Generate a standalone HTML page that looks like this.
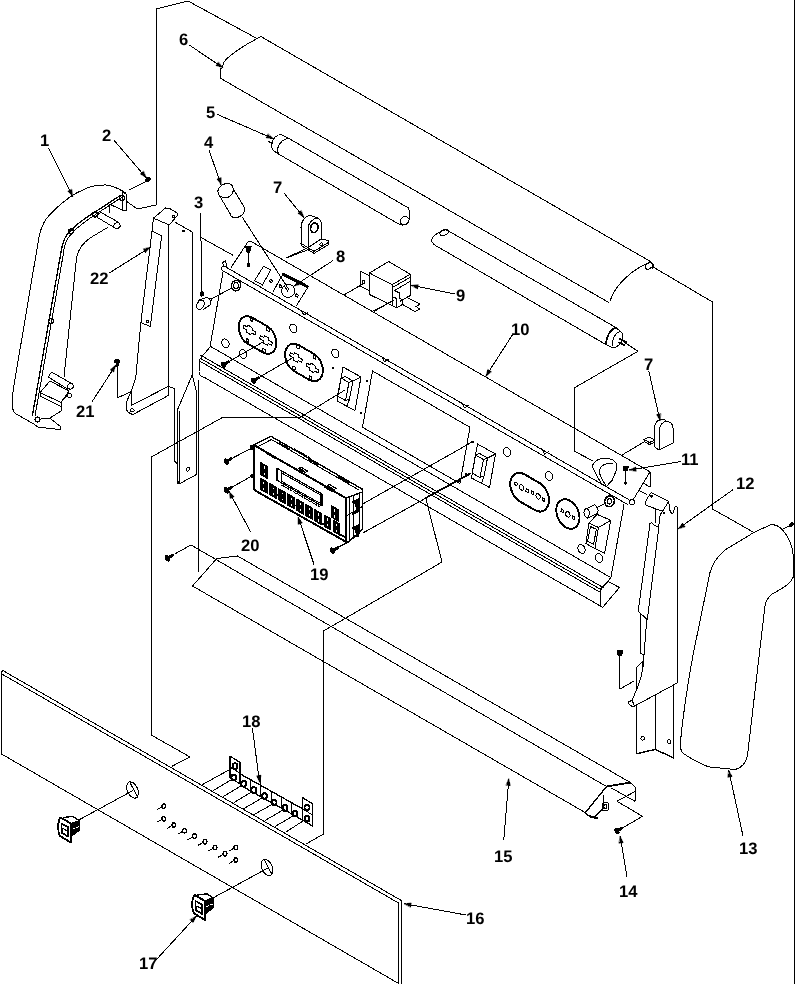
<!DOCTYPE html>
<html lang="en">
<head>
<meta charset="utf-8">
<title>Control panel exploded parts diagram</title>
<style>
html,body{margin:0;padding:0;background:#fff;}
body{width:800px;height:984px;overflow:hidden;position:relative;font-family:"Liberation Sans",sans-serif;}
svg{position:absolute;left:0;top:0;display:block;}
svg path,svg ellipse{fill:none;stroke:#000;stroke-width:1;shape-rendering:crispEdges;stroke-linecap:round;stroke-linejoin:round;}
svg text{font-family:"Liberation Sans",sans-serif;font-weight:bold;font-size:16.6px;fill:#000;text-rendering:geometricPrecision;}
svg{will-change:transform;}
</style>
</head>
<body>
<svg width="800" height="984" viewBox="0 0 800 984">
<!-- frame line at right edge -->
<g>
<path d="M794.5 0 L794.5 984" style="stroke-width:1.3"/>
</g>
<!-- callout numbers -->
<g>
<text x="40" y="146">1</text>
<text x="102" y="141">2</text>
<text x="194" y="208">3</text>
<text x="204" y="148">4</text>
<text x="206" y="118">5</text>
<text x="179" y="45">6</text>
<text x="273" y="193">7</text>
<text x="336" y="262">8</text>
<text x="456" y="301.3">9</text>
<text x="511" y="335.3">10</text>
<text x="644" y="370">7</text>
<text x="681" y="465">11</text>
<text x="736" y="489">12</text>
<text x="739" y="854">13</text>
<text x="619" y="896.5">14</text>
<text x="494" y="862">15</text>
<text x="466" y="924">16</text>
<text x="139" y="969">17</text>
<text x="242" y="727">18</text>
<text x="310" y="580">19</text>
<text x="241" y="551">20</text>
<text x="76" y="417">21</text>
<text x="90" y="284">22</text>
</g>
<!-- exploded-view guide lines -->
<g>
<path d="M126 201 L137.5 209 L156 205 L156 9 L188 1 L256 38"/>
<path d="M654 267.5 L712.5 302 L712.5 509 L754 532.5"/>
<path d="M624 342 L638 351.3 L574 388 L574 451 L593 461"/>
<path d="M201 237.5 L232.5 255"/>
<path d="M287.5 257.5 L310 249"/>
<path d="M344 295 L362.5 284"/>
<path d="M374 311.5 L394 300"/>
<path d="M345 390 L300 417.5 L222.5 417.5 L151.3 457 L151.3 735 L190 757 L172.5 766"/>
</g>
<!-- 6 lamp cover -->
<g>
<path d="M261 36.6 L651 261.8"/>
<path d="M220 78 L609 302.6"/>
<path d="M261 36.6 C246 44 229 55 224 62 L222 68 L220 69 L220 78"/>
<path d="M649 262.5 C636 268 616 282 610 301"/>
<ellipse cx="649" cy="266" rx="4" ry="2.6" transform="rotate(-35 649 266)"/>
<path d="M651 262.2 L654 265.5 L652 269"/>
</g>
<!-- 5 fluorescent tube -->
<g>
<path d="M289 138.5 L408.5 208"/>
<path d="M278.5 154 L399.5 224.5"/>
<path d="M408.5 208 C410 212 410 218 408.5 221.5 C407 224.5 403 226 399.5 224.5"/>
<ellipse cx="404.6" cy="220.8" rx="4.6" ry="4" transform="rotate(-40 404.6 220.8)"/>
<path d="M289 138.5 L281 134.5"/>
<path d="M281 134.5 C277 134.5 273 138 272 143 C271.3 146.5 272 149.5 273.5 150.8 L278.5 154"/>
<path d="M289 138.5 C284 138.5 279.5 142.5 278 147.5 C277.3 150 277.5 152.5 278.5 154"/>
<path d="M268 136.5 L273.5 139" style="stroke-width:1.6"/>
<path d="M268.5 141.5 L272.5 143.5" style="stroke-width:1.6"/>
<path d="M449.5 231.5 L616 327.6"/>
<path d="M436 245.8 L606 344.6"/>
<path d="M449.5 231.5 L446 229.8 C441 231 435 234.5 432.5 237.5 C431 240 431.5 243.5 436 245.8"/>
<ellipse cx="444.3" cy="232.4" rx="4.6" ry="2.8" transform="rotate(-25 444.3 232.4)"/>
<path d="M616 327.7 C610 329.5 606 337 606 344.6" style="stroke-width:1.8"/>
<path d="M620 331.5 C615 333 611 341 612 348"/>
<path d="M606 344.6 L612 347.5 C618 348 622 343 623 338 C623 334 622 332 620 331 L616 327.7"/>
<path d="M620 339 L626 342" style="stroke-width:1.6"/>
<path d="M619 342.5 L624 345" style="stroke-width:1.6"/>
</g>
<!-- 1 left end cap -->
<g>
<path d="M125 192.5 C120 189.5 114 185.5 106 185 C99 184.8 92 186 86 188.5 C80 191 75 193.5 70 197 C60 204 48 215 44 222.5 C41 228 40 232 39 237 L13.5 388 C12.5 396 12 404 12.5 408 C13 411 14 412.5 16 413.8 L34.4 424.3"/>
<path d="M34.4 424.3 L37.5 427 L60.5 429.6 L61 427 L51 419 L41 418"/>
<path d="M121 195 L95 212 C82 220 70 229 65 238 C63 242 62 246 61 252 L32.5 415" style="stroke-width:1.3"/>
<path d="M123 196.5 L97 213.5 C84 222 72 231 67.5 239 C65 243 64 248 63.5 253 L35 416"/>
<path d="M107.5 227.5 L90 238 C83 243 78 250 76.5 258 L64 377"/>
<path d="M122.5 192.5 L126 194 L126 211 L122.5 210 L122.5 192.5"/>
<path d="M109 204 L109 213"/>
<path d="M109 204 L122.5 210"/>
<path d="M101 212.5 L119 222.5"/>
<path d="M97.5 217.5 L115 228"/>
<ellipse cx="117" cy="225.6" rx="3.2" ry="2.8" transform="rotate(-30 117 225.6)"/>
<path d="M101 212.5 C98 213 97 216 97.5 217.5"/>
<ellipse cx="122" cy="198" rx="2.4" ry="2.4" style="stroke-width:1.4"/>
<ellipse cx="95" cy="214.5" rx="2.4" ry="2.4" style="stroke-width:1.4"/>
<ellipse cx="71" cy="231.5" rx="2.4" ry="2.4" style="stroke-width:1.4"/>
<ellipse cx="51" cy="321" rx="2.4" ry="2.4" style="stroke-width:1.4"/>
<ellipse cx="37.5" cy="419.5" rx="2.4" ry="2.4" style="stroke-width:1.4"/>
<path d="M52.5 372.5 L72.5 384"/>
<path d="M49 377.5 L67.5 389"/>
<ellipse cx="70.5" cy="386.3" rx="3" ry="2.6" transform="rotate(-30 70.5 386.3)"/>
<path d="M52.5 372.5 C49.5 373 48.5 376 49 377.5"/>
<path d="M40 392.5 L50 381 L69 391 L61 402.5 L40 392.5"/>
<path d="M40 392.5 L40 396 L61 406.5 L61 402.5"/>
<path d="M61 406.5 L61 411 L50 418"/>
<path d="M61 402.5 L68 394"/>
<ellipse cx="69.5" cy="395.5" rx="2.2" ry="2" transform="rotate(-30 69.5 395.5)"/>
<path d="M48.8 148.8 L72.5 196"/>
<path d="M72.5 196 L67.8 191.1 L71.4 189.3 Z" style="fill:#000;stroke-width:0.6"/>
<path d="M113.8 140 L146 177.5"/>
<path d="M146 177.5 L140.2 173.9 L143.3 171.3 Z" style="fill:#000;stroke-width:0.6"/>
<path d="M129 190 L148 180.5"/>
<ellipse cx="148.2" cy="179.3" rx="2.3" ry="1.9" transform="rotate(-30 148.2 179.3)" style="fill:#000"/>
<path d="M146 180.6 L148 179.5" style="stroke-width:2.2"/>
</g>
<!-- 22 left mounting bracket -->
<g>
<path d="M153.4 218.2 L165.5 208 L169.4 208.3 L177 212.9 L177.7 215 L169.4 225 L153.4 218.2"/>
<ellipse cx="173.6" cy="216.4" rx="1.3" ry="1.3"/>
<path d="M153.4 218.2 L152 231 L140.9 322.6 L137.3 360.5 L135.8 377.3 L131.3 391 L126.7 401.6 L126.2 409.3 L128.2 412.3 L132.8 414.6 L168.3 395.5 L168.3 386.4 L131.3 405.5 L131.3 391"/>
<path d="M152 231 L161.7 235.7 L150.3 326.4 L140.9 322.6"/>
<ellipse cx="147.7" cy="321.4" rx="1.2" ry="1.2"/>
<ellipse cx="132.2" cy="410.3" rx="2" ry="1.5"/>
<path d="M168.8 224.5 L168.8 386.4"/>
<path d="M174.7 222 L192.2 232 L192.2 375"/>
<ellipse cx="183.5" cy="231" rx="0.9" ry="0.9" style="fill:#000"/>
<path d="M168.3 386.4 L174.7 388.7 L174.7 461 L177 463.4"/>
<path d="M192.2 375 L177.7 409.3 L177.7 484"/>
<path d="M179.3 411 L179.3 484"/>
<path d="M192.2 375 L196 389.5 L196 474.8 L179 484 L177.7 480"/>
<ellipse cx="188" cy="469.2" rx="1.5" ry="2" transform="rotate(20 188 469.2)"/>
<path d="M198.3 380.3 L198.3 572"/>
<path d="M110 272.5 L150 247.5"/>
<path d="M150 247.5 L145.5 252.6 L143.4 249.2 Z" style="fill:#000;stroke-width:0.6"/>
<path d="M92.5 401 L115.6 365.5"/>
<path d="M115.6 365.5 L113.7 372 L110.4 369.9 Z" style="fill:#000;stroke-width:0.6"/>
<path d="M117.5 366 L117.5 397.8 L131.3 391.7"/>
<ellipse cx="117.2" cy="361.3" rx="2.6" ry="1.7" style="fill:#000"/>
<path d="M117.4 362 L117.4 366" style="stroke-width:2.4"/>
</g>
<!-- 3 indicator lamp -->
<g>
<path d="M200.6 213 L201.8 293"/>
<ellipse cx="202" cy="294" rx="1.6" ry="2.2" style="fill:#000"/>
<ellipse cx="200.4" cy="304.8" rx="3.4" ry="5" transform="rotate(30 200.4 304.8)"/>
<path d="M198.8 300.2 L206.5 297.6 C209 297.6 211 300.5 210.8 304.5 L203.3 309.6"/>
<path d="M209.5 298.8 L211.5 298.3 L212 300.5"/>
<path d="M211.5 298.8 L232 288"/>
<ellipse cx="236" cy="285.6" rx="4.6" ry="5.4" transform="rotate(20 236 285.6)" style="stroke-width:1.4"/>
<ellipse cx="236" cy="285.6" rx="2.4" ry="3"/>
<path d="M200.6 237.3 L232.5 255"/>
</g>
<!-- 10 control panel backing plate -->
<g>
<path d="M230.8 268 L246.5 244 C247.5 241.5 249.5 240.5 252 242 L650 471.9 L633 500"/>
<path d="M650 471.9 L650 487 L644 483.5"/>
<path d="M224 266 L629 499.8"/>
<path d="M222 270.3 L628 504.7"/>
<path d="M224 266 L222.5 262.5 L225.5 261 L227 267.7"/>
<path d="M224 266 C221 266 220.5 269 222 270.3"/>
<ellipse cx="632" cy="502.3" rx="2.6" ry="2.6"/>
<path d="M223 272 L210 347"/>
<path d="M624 504.5 L611 577"/>
<path d="M210 346.1 L611 577.7"/>
<path d="M201 355.4 L603 587.5"/>
<path d="M200 358.1 L602 590.2"/>
<path d="M200 361.3 L601 592.8"/>
<path d="M204 377.2 L600 605.8"/>
<path d="M210 347 L199.5 359.5 L199 372 C199 375 201 377 204 377.2"/>
<path d="M611 577 L608 581.5 L619.5 587.5 L602.5 607.5 L600 605.8 L600 589.5 L608 581.5"/>
<path d="M226.2 339.4 L226.2 339.4 C228.1 340.5 229.4 343.2 229 345.4 L229 345.4 C228.6 347.6 226.7 348.5 224.8 347.4 L224.8 347.4 C222.9 346.3 221.6 343.6 222 341.4 L222 341.4 C222.4 339.2 224.3 338.3 226.2 339.4 Z"/>
<path d="M243.7 350 L243.7 350 C245.6 351.1 246.9 353.8 246.5 356 L246.5 356 C246.1 358.2 244.2 359.1 242.3 358 L242.3 358 C240.4 356.9 239.1 354.2 239.5 352 L239.5 352 C239.9 349.8 241.8 348.9 243.7 350 Z"/>
<path d="M294.1 324.5 L294.1 324.5 C296 325.6 297.3 328.3 296.9 330.5 L296.9 330.5 C296.5 332.7 294.6 333.6 292.7 332.5 L292.7 332.5 C290.8 331.4 289.5 328.7 289.9 326.5 L289.9 326.5 C290.3 324.3 292.2 323.4 294.1 324.5 Z"/>
<path d="M336.1 349.5 L336.1 349.5 C338 350.6 339.3 353.3 338.9 355.5 L338.9 355.5 C338.5 357.7 336.6 358.6 334.7 357.5 L334.7 357.5 C332.8 356.4 331.5 353.7 331.9 351.5 L331.9 351.5 C332.3 349.3 334.2 348.4 336.1 349.5 Z"/>
<path d="M507.7 448 L507.7 448 C509.6 449.1 510.9 451.8 510.5 454 L510.5 454 C510.1 456.2 508.2 457.1 506.3 456 L506.3 456 C504.4 454.9 503.1 452.2 503.5 450 L503.5 450 C503.9 447.8 505.8 446.9 507.7 448 Z"/>
<path d="M549.7 472 L549.7 472 C551.6 473.1 552.9 475.8 552.5 478 L552.5 478 C552.1 480.2 550.2 481.1 548.3 480 L548.3 480 C546.4 478.9 545.1 476.2 545.5 474 L545.5 474 C545.9 471.8 547.8 470.9 549.7 472 Z"/>
<path d="M582.2 545 L582.2 545 C584.1 546.1 585.4 548.8 585 551 L585 551 C584.6 553.2 582.7 554.1 580.8 553 L580.8 553 C578.9 551.9 577.6 549.2 578 547 L578 547 C578.4 544.8 580.3 543.9 582.2 545 Z"/>
<path d="M599.7 554 L599.7 554 C601.6 555.1 602.9 557.8 602.5 560 L602.5 560 C602.1 562.2 600.2 563.1 598.3 562 L598.3 562 C596.4 560.9 595.1 558.2 595.5 556 L595.5 556 C595.9 553.8 597.8 552.9 599.7 554 Z"/>
<path d="M252.4 317.8 L267.2 326.2 C273.4 329.8 277.4 338.6 276.1 345.8 L276.1 345.8 C274.8 352.9 268.8 355.8 262.6 352.2 L247.8 343.8 C241.6 340.2 237.6 331.4 238.9 324.2 L238.9 324.2 C240.2 317.1 246.2 314.2 252.4 317.8 Z" style="stroke-width:1.9"/>
<path d="M298.9 345.2 L313.7 353.8 C319.9 357.3 323.9 366.1 322.6 373.2 L322.6 373.2 C321.3 380.4 315.3 383.3 309.1 379.8 L294.3 371.2 C288.1 367.7 284.1 358.9 285.4 351.8 L285.4 351.8 C286.7 344.6 292.7 341.7 298.9 345.2 Z" style="stroke-width:1.9"/>
<path d="M243.7 325 L247.2 327 L248.2 325.3 L252 327.5 L252.4 330 L255.8 332 L255.3 335 L251.8 333 L250.8 334.7 L247 332.5 L246.6 330 L243.2 328 Z" style="stroke-width:1"/>
<path d="M260.2 335.5 L263.7 337.5 L264.7 335.8 L268.5 338 L268.9 340.5 L272.3 342.5 L271.8 345.5 L268.3 343.5 L267.3 345.2 L263.5 343 L263.1 340.5 L259.7 338.5 Z" style="stroke-width:1"/>
<path d="M250.5 317.4 L253 318.8 L252.5 321.6 L250 320.2 Z" style="stroke-width:1"/>
<path d="M267 327.4 L269.5 328.8 L269 331.6 L266.5 330.2 Z" style="stroke-width:1"/>
<path d="M246.5 338.4 L249 339.8 L248.5 342.6 L246 341.2 Z" style="stroke-width:1"/>
<path d="M263 348.4 L265.5 349.8 L265 352.6 L262.5 351.2 Z" style="stroke-width:1"/>
<path d="M290.2 352.5 L293.7 354.5 L294.7 352.8 L298.5 355 L298.9 357.5 L302.3 359.5 L301.8 362.5 L298.3 360.5 L297.3 362.2 L293.5 360 L293.1 357.5 L289.7 355.5 Z" style="stroke-width:1"/>
<path d="M306.7 363 L310.2 365 L311.2 363.3 L315 365.5 L315.4 368 L318.8 370 L318.3 373 L314.8 371 L313.8 372.7 L310 370.5 L309.6 368 L306.2 366 Z" style="stroke-width:1"/>
<path d="M297 344.9 L299.5 346.3 L299 349.1 L296.5 347.7 Z" style="stroke-width:1"/>
<path d="M313.5 354.9 L316 356.3 L315.5 359.1 L313 357.7 Z" style="stroke-width:1"/>
<path d="M293 365.9 L295.5 367.3 L295 370.1 L292.5 368.7 Z" style="stroke-width:1"/>
<path d="M309.5 375.9 L312 377.3 L311.5 380.1 L309 378.7 Z" style="stroke-width:1"/>
<path d="M372.5 371 L470 427.3 L460 483.5 L362.5 427.2 Z"/>
<path d="M343 367 L361 377 L355 410.5 L337 401 Z"/>
<path d="M341 378 L349 382.5 L345.5 400.5 L337.5 396 Z"/>
<path d="M341 378 L345 376.5 L353 381 L349 382.5"/>
<path d="M353 381 L349.5 399 L345.5 400.5"/>
<path d="M353 381 L361 377"/>
<path d="M347 406.3 L349.5 399"/>
<path d="M477.5 444 L495.5 454 L489.5 487.5 L471.5 478 Z"/>
<path d="M475.5 455 L483.5 459.5 L480 477.5 L472 473 Z"/>
<path d="M475.5 455 L479.5 453.5 L487.5 458 L483.5 459.5"/>
<path d="M487.5 458 L484 476 L480 477.5"/>
<path d="M487.5 458 L495.5 454"/>
<path d="M481.5 483.3 L484 476"/>
<ellipse cx="333" cy="368" rx="0.9" ry="0.9" style="fill:#000"/>
<ellipse cx="367" cy="381" rx="0.9" ry="0.9" style="fill:#000"/>
<ellipse cx="361" cy="413" rx="0.9" ry="0.9" style="fill:#000"/>
<ellipse cx="472.5" cy="442" rx="0.9" ry="0.9" style="fill:#000"/>
<ellipse cx="466" cy="474.5" rx="0.9" ry="0.9" style="fill:#000"/>
<ellipse cx="459" cy="481" rx="0.9" ry="0.9" style="fill:#000"/>
<path d="M301 309.7 L304 315.2 L308 312.7" style="stroke-width:1"/>
<path d="M381.5 356.1 L384.5 361.6 L388.5 359.1" style="stroke-width:1"/>
<path d="M461.5 402.3 L464.5 407.8 L468.5 405.3" style="stroke-width:1"/>
<path d="M541.5 448.5 L544.5 454 L548.5 451.5" style="stroke-width:1"/>
<path d="M248.4 247 L248.4 264" style="stroke-width:1.3"/>
<path d="M245.6 246 L251.2 246 L250.6 249 L249.6 252 L247.2 252 L246.2 249 Z" style="fill:#000"/>
<ellipse cx="248.4" cy="265" rx="1.3" ry="1.5" style="fill:#000"/>
<path d="M263.6 266.2 L270.6 270 L262.5 285 L254.6 280.6 Z"/>
<path d="M270.2 279.2 L272.3 280.4 L271.8 282.8 L269.7 281.6 Z" style="stroke-width:1"/>
<path d="M228 362 L262.2 342.5"/>
<path d="M258 378 L292 358.2"/>
<path d="M223.6 364.6 L228.4 361.8" style="stroke-width:3"/>
<ellipse cx="223.2" cy="364.8" rx="1.6" ry="3" transform="rotate(-30 223.2 364.8)" style="fill:#000"/>
<path d="M253.6 380.6 L258.4 377.8" style="stroke-width:3"/>
<ellipse cx="253.2" cy="380.8" rx="1.6" ry="3" transform="rotate(-30 253.2 380.8)" style="fill:#000"/>
</g>
<!-- 8 starter socket and plate -->
<g>
<path d="M283.5 274.5 L307.3 286.6" style="stroke-width:3"/>
<path d="M283.3 273.4 L272.8 292.1"/>
<path d="M307.8 287.4 L296.4 305.8"/>
<ellipse cx="288.2" cy="290.8" rx="6.6" ry="6.6"/>
<path d="M279.5 284.4 L281.6 285.6 L281.1 288 L279 286.8 Z" style="stroke-width:1"/>
<path d="M296.1 293.8 L298.2 295 L297.7 297.4 L295.6 296.2 Z" style="stroke-width:1"/>
<path d="M284.5 286.5 L288 291.5"/>
<path d="M332.5 260.9 L294.5 285.7"/>
<path d="M294.5 285.7 L298.9 280.5 L301 283.8 Z" style="fill:#000;stroke-width:0.6"/>
</g>
<!-- 4 starter -->
<g>
<path d="M218.5 194 C216.5 190 219.5 185.5 224.5 184 C229.5 182.5 233.5 184.5 233 188.5 L244.5 207.5 C246 211 243 215.5 238.5 217 C234 218.5 230.5 217 230 213.5 Z"/>
<path d="M218.5 194 C220 197.5 224.5 198.5 228.5 197 C232 195.5 234 191.5 233 188.5"/>
<path d="M242.5 217.5 L288.5 289"/>
<path d="M209 150 L221 184.5"/>
<path d="M221 184.5 L217 179 L220.8 177.7 Z" style="fill:#000;stroke-width:0.6"/>
</g>
<!-- 7 lamp holder (left) -->
<g>
<path d="M301 243.4 L301 227.6 C301.5 220 306 215.5 310.6 215.4 L317.6 218 C320 219 321.1 221 321.1 223 L321.1 239"/>
<path d="M308 247.6 L308 229 C308.5 222 313 218.5 317.6 218"/>
<ellipse cx="314.3" cy="227.8" rx="3.6" ry="4.8" transform="rotate(15 314.3 227.8)" style="stroke-width:1.7"/>
<path d="M301 243.4 L314.1 251.3 L328.3 242.5 L328.3 240.5 L321.1 239 L308 247.6"/>
<path d="M301 243.4 L301 245.5 L314.1 253.4 L328.3 244.6 L328.3 242.5"/>
<ellipse cx="321.3" cy="244.3" rx="1.6" ry="1.2" transform="rotate(-30 321.3 244.3)"/>
<path d="M287 257.4 L304.5 249.5"/>
<path d="M284.4 193.5 L303.6 217.1"/>
<path d="M303.6 217.1 L297.9 213.3 L301 210.8 Z" style="fill:#000;stroke-width:0.6"/>
</g>
<!-- 5 and 6 callout arrows -->
<g>
<path d="M217.5 114.5 L273 138.5"/>
<path d="M273 138.5 L266.2 137.8 L267.8 134.1 Z" style="fill:#000;stroke-width:0.6"/>
<path d="M190 45.5 L222.5 67.5"/>
<path d="M222.5 67.5 L216 65.5 L218.2 62.2 Z" style="fill:#000;stroke-width:0.6"/>
</g>
<!-- 9 relay -->
<g>
<path d="M369.4 273 L388.7 261.5 L410.3 274.3 L392.3 284.6 Z"/>
<path d="M369.4 273 L369.4 294.5 L392.3 305.5 L392.3 284.6"/>
<path d="M410.3 274.3 L410.3 295.5 L400 301.3"/>
<path d="M360.5 271.4 L369.4 275.8"/>
<path d="M360.5 271.4 L360.5 286.3 L369.4 290.6"/>
<ellipse cx="363.7" cy="282" rx="1.3" ry="1.6"/>
<path d="M392.3 287.5 L410.3 277.3"/>
<path d="M394.5 290.5 L410.3 281.3"/>
<path d="M394.5 290.5 L399.5 293 L399.5 297.5"/>
<path d="M392.3 296.5 L396.5 298.5 L396.5 308"/>
<path d="M392.3 305.5 L396.5 308 L402.5 304.5 L415 311.5 L419.5 309 L416 306.5 L420 304 L408 298"/>
<path d="M402.5 304.5 L402.5 300 L400 298.5"/>
<path d="M343.9 295 L360.5 285.4"/>
<path d="M373.6 310.8 L392.3 301"/>
<path d="M455 294 L411.5 285.4"/>
<path d="M411.5 285.4 L418.3 284.7 L417.5 288.6 Z" style="fill:#000;stroke-width:0.6"/>
</g>
<!-- 10 callout arrow -->
<g>
<path d="M512 335.5 L486 376"/>
<path d="M486 376 L487.8 369.4 L491.2 371.6 Z" style="fill:#000;stroke-width:0.6"/>
</g>
<!-- 10 right-hand cut-outs, toggle switch and lamp holder -->
<g>
<path d="M524.6 474.4 L539.4 482.9 C545.8 486.7 550 495.7 548.7 503.2 L548.7 503.2 C547.3 510.7 541 513.7 534.6 509.9 L519.8 501.4 C513.4 497.7 509.2 488.7 510.5 481.2 L510.5 481.2 C511.9 473.7 518.2 470.7 524.6 474.4 Z" style="stroke-width:2"/>
<path d="M521.9 484.8 L521.9 484.8 C523.1 485.5 523.9 487.2 523.7 488.6 L523.7 488.6 C523.4 489.9 522.3 490.5 521.1 489.8 L521.1 489.8 C519.9 489.1 519.1 487.4 519.3 486.1 L519.3 486.1 C519.6 484.7 520.7 484.1 521.9 484.8 Z" style="stroke-width:1"/>
<path d="M515 481.9 L517.3 483.1 L516.8 485.8 L514.5 484.5 Z" style="stroke-width:1"/>
<path d="M526.2 488.7 L528.5 489.9 L528 492.6 L525.7 491.3 Z" style="stroke-width:1"/>
<path d="M538.5 493.9 L538.5 493.9 C539.7 494.6 540.5 496.3 540.3 497.6 L540.3 497.6 C540 499 538.9 499.6 537.7 498.9 L537.7 498.9 C536.5 498.2 535.7 496.5 535.9 495.1 L535.9 495.1 C536.2 493.8 537.3 493.2 538.5 493.9 Z" style="stroke-width:1"/>
<path d="M531.6 490.9 L533.9 492.2 L533.4 494.8 L531.1 493.6 Z" style="stroke-width:1"/>
<path d="M542.8 497.8 L545.1 499 L544.6 501.6 L542.3 500.4 Z" style="stroke-width:1"/>
<path d="M570.2 500.8 L570.2 500.8 C576.5 504.4 580.6 513.3 579.3 520.6 L579.3 520.6 C578 527.9 571.9 530.8 565.6 527.2 L565.6 527.2 C559.3 523.6 555.2 514.7 556.5 507.4 L556.5 507.4 C557.8 500.1 563.9 497.2 570.2 500.8 Z" style="stroke-width:1.9"/>
<path d="M568.3 511.9 L568.3 511.9 C569.5 512.6 570.3 514.3 570.1 515.6 L570.1 515.6 C569.8 517 568.7 517.6 567.5 516.9 L567.5 516.9 C566.3 516.2 565.5 514.5 565.7 513.1 L565.7 513.1 C566 511.8 567.1 511.2 568.3 511.9 Z" style="stroke-width:1"/>
<path d="M561.4 508.9 L563.7 510.2 L563.2 512.8 L560.9 511.6 Z" style="stroke-width:1"/>
<path d="M572.6 515.8 L574.9 517 L574.4 519.6 L572.1 518.3 Z" style="stroke-width:1"/>
<ellipse cx="609.5" cy="501.3" rx="4.8" ry="5.4" transform="rotate(20 609.5 501.3)" style="stroke-width:1.6"/>
<ellipse cx="609.5" cy="501.3" rx="2.2" ry="2.6" transform="rotate(20 609.5 501.3)" style="stroke-width:1.2"/>
<path d="M585.5 509 C583 510.5 583.5 516 587 518.3 L597 513.5 C599 511.5 598 507 594.5 504.8 Z"/>
<path d="M585.5 509 C588.5 508 591.5 513 587 518.3"/>
<path d="M597.6 507.4 L606.2 503"/>
<path d="M588.9 523.1 L598.5 527.5 L595 548.5 L585.9 543.6 Z"/>
<path d="M588.9 523.1 L597.1 514.4 L610.8 520.2 L598.5 527.5"/>
<path d="M610.8 520.2 L604.6 553.4 L595 548.5"/>
<path d="M590.5 526.5 L596.3 529.3 L593.6 544.5 L587.6 541.5 Z"/>
<path d="M592.4 466 C594 460 602 457 609 458.5 C615 460 618 464 616.5 470 L612.3 480 L606.5 486.5 L602 484.5 C597 476 593 470 592.4 466 Z"/>
<path d="M606.5 486.5 C602 480 599 475 599.5 471 C600.5 465 607 462 613 464"/>
<path d="M625.6 468 L625.6 482" style="stroke-width:1.3"/>
<path d="M623 466 L628.4 466 L627.4 470.5 L624 470.5 Z" style="fill:#000"/>
<ellipse cx="625.6" cy="483" rx="1.2" ry="1.2" style="fill:#000"/>
<path d="M681 461.5 L629.5 470"/>
<path d="M629.5 470 L635.6 467 L636.2 470.9 Z" style="fill:#000;stroke-width:0.6"/>
</g>
<!-- 7 lamp holder (right) -->
<g>
<path d="M659 450 L659 431 C659.5 425 663 421.5 666.5 421.5 C670 421.5 673 424 673 428 L673 443 Z"/>
<path d="M659 450 L654 446.5 L654 430 C654.5 423 658 419 662 419 C664 419 665.5 420 666.5 421.5"/>
<path d="M644 439.5 L649 437 L654 439.5"/>
<path d="M644 439.5 L644 441.5 L649.5 444.5 L654 442.5"/>
<path d="M644 439.5 L649.5 442.5 L654 440.5"/>
<path d="M622 455 L644 442"/>
<path d="M648.8 371 L660 420.5"/>
<path d="M660 420.5 L656.6 414.6 L660.5 413.7 Z" style="fill:#000;stroke-width:0.6"/>
</g>
<!-- 12 right mounting bracket -->
<g>
<path d="M638.2 490 L646.6 494.5"/>
<path d="M646.5 499.5 L650.3 493.8 C650.8 493 651.8 492.8 652.6 493.3 L668.7 501.3 L662.6 511.3 L647 505.6 C645.6 505 645.3 503.5 645.8 502.2 Z"/>
<ellipse cx="651.4" cy="496.3" rx="0.9" ry="0.9" style="fill:#000"/>
<path d="M668.7 501.3 L669.5 508.2 C670 512 671.5 513.8 672.8 513.5 C674 513 674 509.5 674.6 507.5 C675.2 505.5 677.2 505 677.4 508 L677.4 682.9"/>
<path d="M655.7 509.7 L655.4 522.7"/>
<path d="M662.6 511.3 L660.3 514.3 L658.8 525.7"/>
<ellipse cx="664.1" cy="512.8" rx="0.8" ry="0.8" style="fill:#000"/>
<path d="M650 523.4 L651.5 522.6 L655 525.8 L659 526.5 L647.3 619.5 L638.2 611.5 Z"/>
<path d="M640.6 614.7 L640.6 653.5 L643.2 654.4"/>
<path d="M646.8 619.2 L644 655"/>
<path d="M644 655 C644 668 640 684 632 700.2"/>
<path d="M636.3 689.8 L636.3 667.4 L642.3 661.8 L642.6 672"/>
<path d="M632 700.2 L628.5 702 L628.5 703.8 L632.8 707 L677.4 682.9"/>
<path d="M632 700.2 L634.5 706"/>
<path d="M636.6 706.2 L636.6 753.7 L655.3 749.4 L673.7 758 L673.7 684.9" style="stroke-width:1.4"/>
<path d="M655.3 695.9 L655.3 749.4"/>
<ellipse cx="642.7" cy="738.2" rx="1.8" ry="2"/>
<ellipse cx="669.1" cy="741.6" rx="1.6" ry="2"/>
<path d="M732.5 490 L678.4 528.6"/>
<path d="M678.4 528.6 L682.5 523.2 L684.9 526.5 Z" style="fill:#000;stroke-width:0.6"/>
<path d="M619.9 654 L619.9 689 L633.7 681.2"/>
<path d="M617 650.5 L622.8 650.5 L621.6 655.5 L618.2 655.5 Z" style="fill:#000"/>
</g>
<!-- 13 right end cap -->
<g>
<path d="M753.8 532.5 L770 525 C775 524 779 526 782.5 530 C788 536 792 545 793.3 555 L793.3 577 C791 583 786 586.5 772.5 593.8 C768 597 766 601 765 606 L747.5 755 C746.5 762 742 768 735 769.5 L710 767 C705 766.5 690 758 683.8 753.8 C680.5 751 680 748 680.3 743 C682 725 687 688 693 655 L710 572.5 C712 565 718 556 725 550 Z"/>
<path d="M782 529.5 L790.5 525.5"/>
<ellipse cx="791.5" cy="524.5" rx="2" ry="1.6" transform="rotate(-30 791.5 524.5)" style="fill:#000"/>
<path d="M743 836 L728.8 770.5"/>
<path d="M728.8 770.5 L732.1 776.4 L728.2 777.3 Z" style="fill:#000;stroke-width:0.6"/>
</g>
<!-- 15 lower trim -->
<g>
<path d="M237.5 556 L630.5 782.6"/>
<path d="M191 545 L606.5 786.5"/>
<path d="M192.5 586 L585.5 812.7"/>
<path d="M192.5 586 L216 559.4"/>
<path d="M216.5 558.6 L237.5 556"/>
<path d="M606.5 786.5 L630.5 782.6" style="stroke-width:1.8"/>
<path d="M606.5 786.5 L585.5 812.5 L587.8 815.5 L596 817.8" style="stroke-width:1.4"/>
<path d="M590 816.4 L597 818" style="stroke-width:2.4"/>
<path d="M630.5 782.6 L635 787 L635 801.3 L611 787.8"/>
<path d="M635 791.5 L617 801.3"/>
<path d="M603.5 795.3 L603.5 808 L596 815.5"/>
<path d="M602.8 803 L608 802.8 L608 810.3 L602.8 810.3 Z"/>
<ellipse cx="605.4" cy="806.5" rx="1.4" ry="2"/>
<path d="M503.8 840 L508.8 779"/>
<path d="M508.8 779 L510.3 785.6 L506.3 785.3 Z" style="fill:#000;stroke-width:0.6"/>
<path d="M617 801.3 L642.5 816.3 L621.5 828.5"/>
<path d="M617.3 830.8 L621.7 828.2" style="stroke-width:3"/>
<ellipse cx="616.9" cy="831" rx="1.6" ry="3" transform="rotate(-30 616.9 831)" style="fill:#000"/>
<path d="M627 877 L620.2 836.5"/>
<path d="M620.2 836.5 L623.2 842.6 L619.3 843.2 Z" style="fill:#000;stroke-width:0.6"/>
<path d="M175 553.8 L191 545"/>
<path d="M167.6 558.1 L172.4 555.3" style="stroke-width:3"/>
<ellipse cx="167.2" cy="558.3" rx="1.6" ry="3" transform="rotate(-30 167.2 558.3)" style="fill:#000"/>
</g>
<!-- guide lines for glass and module -->
<g>
<path d="M306.3 843.8 L323.5 834 L323.5 631 L442 562 L425.7 498"/>
<path d="M363.7 532.5 L470.4 473.5"/>
<path d="M425.7 498 L470.4 473.5" style="stroke-width:1.8"/>
<path d="M362.7 504 L471.4 442.4"/>
</g>
<!-- 16 glass panel -->
<g>
<path d="M1.5 754 L1.5 672 L2.8 670.5 L401.5 900.6 L401.5 984"/>
<path d="M1.5 673.8 L398.5 903 L398.5 983.4"/>
<path d="M1.5 754 L398.5 983.4"/>
<ellipse cx="132.5" cy="790" rx="5.2" ry="8.6" transform="rotate(-25 132.5 790)"/>
<ellipse cx="267" cy="867.5" rx="5.2" ry="8.6" transform="rotate(-25 267 867.5)"/>
<path d="M130 782.5 L137.5 797" style="stroke-width:1"/>
<path d="M264.5 860 L272 874.5" style="stroke-width:1"/>
<ellipse cx="163.8" cy="806.2" rx="1.9" ry="2.2" style="stroke-width:1.3"/>
<path d="M162.2 806.8 L157.2 809.6" style="stroke-width:1"/>
<ellipse cx="163.8" cy="818.8" rx="1.9" ry="2.2" style="stroke-width:1.3"/>
<path d="M162.2 819.2 L157.2 822.1" style="stroke-width:1"/>
<ellipse cx="173.8" cy="825" rx="1.9" ry="2.2" style="stroke-width:1.3"/>
<path d="M172.2 825.5 L167.2 828.4" style="stroke-width:1"/>
<ellipse cx="184.5" cy="830.8" rx="1.9" ry="2.2" style="stroke-width:1.3"/>
<path d="M183 831.2 L178 834.1" style="stroke-width:1"/>
<ellipse cx="194.5" cy="836.2" rx="1.9" ry="2.2" style="stroke-width:1.3"/>
<path d="M193 836.8 L188 839.6" style="stroke-width:1"/>
<ellipse cx="205" cy="841.8" rx="1.9" ry="2.2" style="stroke-width:1.3"/>
<path d="M203.5 842.2 L198.5 845.1" style="stroke-width:1"/>
<ellipse cx="215" cy="847.5" rx="1.9" ry="2.2" style="stroke-width:1.3"/>
<path d="M213.5 848 L208.5 850.9" style="stroke-width:1"/>
<ellipse cx="225" cy="853.8" rx="1.9" ry="2.2" style="stroke-width:1.3"/>
<path d="M223.5 854.2 L218.5 857.1" style="stroke-width:1"/>
<ellipse cx="235.8" cy="847.5" rx="1.9" ry="2.2" style="stroke-width:1.3"/>
<path d="M234.2 848 L229.2 850.9" style="stroke-width:1"/>
<ellipse cx="235.8" cy="860" rx="1.9" ry="2.2" style="stroke-width:1.3"/>
<path d="M234.2 860.5 L229.2 863.4" style="stroke-width:1"/>
<path d="M466 915 L404.5 903.8"/>
<path d="M404.5 903.8 L411.3 903 L410.5 906.9 Z" style="fill:#000;stroke-width:0.6"/>
</g>
<!-- 17 rocker switches -->
<g>
<path d="M60.5 817.5 L71 823.5 L71 842.5 L60 836 C57.5 831.5 57.5 821.5 60.5 817.5 Z" style="stroke-width:1.9"/>
<path d="M61.5 823.5 L68.3 827.1 L68.3 836.5 L61.5 832.9 Z" style="stroke-width:1.7"/>
<path d="M62.8 828.5 L67.2 830.8 L67.2 835.5 L62.8 833.2 Z" style="stroke-width:1.1"/>
<path d="M64 817.5 L72.8 816.3 L79.6 820.7 L71 823.5" style="stroke-width:1.4"/>
<path d="M79.6 820.7 L79.6 830 L71 836.5" style="stroke-width:1.4"/>
<path d="M72.5 823.7 L78.5 821.7 L78.5 825.7 L72.5 828 Z" style="stroke-width:1;fill:#000"/>
<path d="M72.5 830 L78.5 827.7 L78.5 830.5 L72.5 834.8 Z" style="stroke-width:1;fill:#000"/>
<path d="M75.5 821 L75.5 832.5" style="stroke-width:1"/>
<path d="M194.5 895 L205 901 L205 920 L194 913.5 C191.5 909 191.5 899 194.5 895 Z" style="stroke-width:1.9"/>
<path d="M195.5 901 L202.3 904.6 L202.3 914 L195.5 910.4 Z" style="stroke-width:1.7"/>
<path d="M196.8 906 L201.2 908.3 L201.2 913 L196.8 910.7 Z" style="stroke-width:1.1"/>
<path d="M198 895 L206.8 893.8 L213.6 898.2 L205 901" style="stroke-width:1.4"/>
<path d="M213.6 898.2 L213.6 907.5 L205 914" style="stroke-width:1.4"/>
<path d="M206.5 901.2 L212.5 899.2 L212.5 903.2 L206.5 905.5 Z" style="stroke-width:1;fill:#000"/>
<path d="M206.5 907.5 L212.5 905.2 L212.5 908 L206.5 912.3 Z" style="stroke-width:1;fill:#000"/>
<path d="M209.5 898.5 L209.5 910" style="stroke-width:1"/>
<path d="M78.8 820 L133 790.5"/>
<path d="M213.8 897.5 L267 868.5"/>
<path d="M156 960 L196 916.5"/>
<path d="M196 916.5 L193.1 922.6 L190.1 919.9 Z" style="fill:#000;stroke-width:0.6"/>
</g>
<!-- 18 terminal block -->
<g>
<path d="M230 756 L240 762.5 L240 784 L230 777.5 Z" style="stroke-width:1.3"/>
<path d="M302.5 797.5 L312.5 803.8 L312.5 826 L302.5 820 Z" style="stroke-width:1.3"/>
<path d="M240 773.8 L302.5 808.8" style="stroke-width:1.3"/>
<path d="M240 785 L302.5 820" style="stroke-width:1.3"/>
<path d="M230 767 L240 773.2"/>
<path d="M302.5 808.8 L312.5 815"/>
<path d="M250 779.6 L250 790.8"/>
<path d="M260 776.3 L260 796.5"/>
<path d="M271 791.7 L271 802.9"/>
<path d="M281 797.5 L281 808.7"/>
<path d="M291 803.2 L291 814.4"/>
<ellipse cx="235" cy="766" rx="2.5" ry="2.8" style="stroke-width:1.9"/>
<ellipse cx="233.8" cy="777.5" rx="2.5" ry="2.8" style="stroke-width:1.9"/>
<ellipse cx="307" cy="807.5" rx="2.5" ry="2.8" style="stroke-width:1.9"/>
<ellipse cx="307" cy="818.8" rx="2.5" ry="2.8" style="stroke-width:1.9"/>
<ellipse cx="243.8" cy="783.8" rx="2.5" ry="2.8" style="stroke-width:1.9"/>
<ellipse cx="253.8" cy="790" rx="2.5" ry="2.8" style="stroke-width:1.9"/>
<ellipse cx="264.5" cy="796" rx="2.5" ry="2.8" style="stroke-width:1.9"/>
<ellipse cx="274" cy="802.5" rx="2.5" ry="2.8" style="stroke-width:1.9"/>
<ellipse cx="285" cy="808" rx="2.5" ry="2.8" style="stroke-width:1.9"/>
<ellipse cx="295" cy="813.8" rx="2.5" ry="2.8" style="stroke-width:1.9"/>
<path d="M232.5 768 L202.5 784.5" style="stroke-width:1"/>
<path d="M231.5 779.5 L213.5 790.5" style="stroke-width:1"/>
<path d="M241.5 785.5 L223.5 796.5" style="stroke-width:1"/>
<path d="M251.5 792 L234 802.5" style="stroke-width:1"/>
<path d="M262 798 L244 808.5" style="stroke-width:1"/>
<path d="M272 804.5 L254 814.5" style="stroke-width:1"/>
<path d="M283 810 L265 820.5" style="stroke-width:1"/>
<path d="M293 816 L275 826.5" style="stroke-width:1"/>
<path d="M303 821 L286 832" style="stroke-width:1"/>
<path d="M252.5 728.8 L259.5 782"/>
<path d="M259.5 782 L256.7 775.8 L260.6 775.3 Z" style="fill:#000;stroke-width:0.6"/>
</g>
<!-- 19 electronic clock / control module -->
<g>
<path d="M253.8 445 L346 498.2 L346 541.8 L257 491.6 C255 490.5 253.8 489 253.8 486.5 Z" style="stroke-width:2"/>
<path d="M253.8 445 L271 436.3 L362.5 489.3 L362.5 492 L346 498.2" style="stroke-width:1.4"/>
<path d="M256.5 447.3 L271.5 439.5 L359 490" style="stroke-width:1"/>
<path d="M362.5 492 L362.5 529.5 L349.5 541.2 L346 541.8" style="stroke-width:1.4"/>
<path d="M349.7 497.5 L349.7 541" style="stroke-width:1.2"/>
<path d="M353 496 L353 538" style="stroke-width:1"/>
<path d="M359 493 L359 532.5" style="stroke-width:1"/>
<path d="M353 502 L358.5 499.5 L358.5 511 L353 513.5" style="stroke-width:2.2"/>
<path d="M353 528 L358.5 525.5 L358.5 533.5 L353 538" style="stroke-width:2.2"/>
<path d="M355.5 503 L357.5 510" style="stroke-width:2.4"/>
<path d="M355.5 529 L357.5 536" style="stroke-width:2.4"/>
<path d="M346 516 L362.5 506.5" style="stroke-width:1"/>
<path d="M277 468.3 L322 494 L322 506 L277 480.3 Z" style="stroke-width:1.3"/>
<path d="M281.5 472.8 L320.5 495 L320.5 503.5 L281.5 481.3 Z" style="stroke-width:1"/>
<path d="M282 485.2 L320.5 507.2" style="stroke-dasharray:1.6 1.6;stroke-width:1.2"/>
<path d="M294.3 448.8 L310 457.8" style="stroke-dasharray:1.6 1.6;stroke-width:1.2"/>
<path d="M260.6 462.4 L267.8 466.6 L267.8 478.8 L260.6 474.6 Z" style="stroke-width:1;fill:#000"/>
<path d="M264.2 466.7 l0 1.6 M264.2 473.5 l0 1.6" style="stroke:#fff;stroke-width:1"/>
<path d="M260.6 478.2 L267.2 482 L267.2 493.3 L260.6 489.5 Z" style="stroke-width:1;fill:#000"/>
<path d="M263.9 482.3 l0 1.6 M263.9 488.2 l0 1.6" style="stroke:#fff;stroke-width:1"/>
<path d="M269.7 483.4 L276.3 487.2 L276.3 498.5 L269.7 494.7 Z" style="stroke-width:1;fill:#000"/>
<path d="M273 487.5 l0 1.6 M273 493.4 l0 1.6" style="stroke:#fff;stroke-width:1"/>
<path d="M278.7 488.7 L285.3 492.5 L285.3 503.8 L278.7 500 Z" style="stroke-width:1;fill:#000"/>
<path d="M282 492.8 l0 1.6 M282 498.7 l0 1.6" style="stroke:#fff;stroke-width:1"/>
<path d="M287.8 493.9 L294.4 497.7 L294.4 509 L287.8 505.2 Z" style="stroke-width:1;fill:#000"/>
<path d="M291.1 498 l0 1.6 M291.1 503.9 l0 1.6" style="stroke:#fff;stroke-width:1"/>
<path d="M296.8 499.1 L303.4 502.9 L303.4 514.2 L296.8 510.4 Z" style="stroke-width:1;fill:#000"/>
<path d="M300.1 503.2 l0 1.6 M300.1 509.1 l0 1.6" style="stroke:#fff;stroke-width:1"/>
<path d="M305.9 504.3 L312.5 508.1 L312.5 519.4 L305.9 515.6 Z" style="stroke-width:1;fill:#000"/>
<path d="M309.2 508.4 l0 1.6 M309.2 514.3 l0 1.6" style="stroke:#fff;stroke-width:1"/>
<path d="M314.9 509.6 L321.5 513.4 L321.5 524.7 L314.9 520.9 Z" style="stroke-width:1;fill:#000"/>
<path d="M318.2 513.7 l0 1.6 M318.2 519.6 l0 1.6" style="stroke:#fff;stroke-width:1"/>
<path d="M324 514.8 L330.6 518.6 L330.6 529.9 L324 526.1 Z" style="stroke-width:1;fill:#000"/>
<path d="M327.3 518.9 l0 1.6 M327.3 524.8 l0 1.6" style="stroke:#fff;stroke-width:1"/>
<path d="M333 520 L339.6 523.8 L339.6 535.1 L333 531.3 Z" style="stroke-width:1;fill:#000"/>
<path d="M336.3 524.1 l0 1.6 M336.3 530 l0 1.6" style="stroke:#fff;stroke-width:1"/>
<path d="M331 505.4 L338.4 509.7 L338.4 521.3 L331 517 Z" style="stroke-width:1;fill:#000"/>
<path d="M334.7 509.7 l0 1.6 M334.7 515.9 l0 1.6" style="stroke:#fff;stroke-width:1"/>
<path d="M279.3 443.5 L288.8 449" style="stroke-width:2.2"/>
<path d="M267.3 453.3 L274.8 457.6" style="stroke-width:2.2"/>
<path d="M309.3 459.3 L317.5 464" style="stroke-width:2.2"/>
<path d="M338.5 477.3 L348.5 483.1" style="stroke-width:2.2"/>
<path d="M300 469.2 L304 471.5" style="stroke-width:2.2"/>
<path d="M328 486.6 L332 488.9" style="stroke-width:2.2"/>
<path d="M296.5 470 L301 467.2 L307.5 471 L303 474 Z" style="stroke-width:1.2"/>
<path d="M325 487.3 L329.5 484.5 L336 488.3 L331.5 491.3 Z" style="stroke-width:1.2"/>
<path d="M275 493.5 L280 496.4" style="stroke-width:1.8"/>
<path d="M296 505.5 L300 507.8" style="stroke-width:1.8"/>
<path d="M322 523.5 L327 526.4" style="stroke-width:1.8"/>
<path d="M341 535 L345 537.3" style="stroke-width:1.8"/>
<path d="M314 564.5 L298.4 517.5"/>
<path d="M298.4 517.5 L302.3 523 L298.5 524.3 Z" style="fill:#000;stroke-width:0.6"/>
<path d="M232.3 458.2 L250.4 448.7"/>
<path d="M226.6 461.4 L231.4 458.6" style="stroke-width:3"/>
<ellipse cx="226.2" cy="461.6" rx="1.6" ry="3" transform="rotate(-30 226.2 461.6)" style="fill:#000"/>
<path d="M232.3 487 L251.4 476.3"/>
<path d="M226.6 490.1 L231.4 487.3" style="stroke-width:3"/>
<ellipse cx="226.2" cy="490.3" rx="1.6" ry="3" transform="rotate(-30 226.2 490.3)" style="fill:#000"/>
<path d="M337.5 547.5 L349.5 541.5"/>
<path d="M332.8 550.5 L337.2 548" style="stroke-width:3"/>
<ellipse cx="332.4" cy="550.7" rx="1.6" ry="3" transform="rotate(-30 332.4 550.7)" style="fill:#000"/>
<ellipse cx="251.8" cy="447.5" rx="1.3" ry="2.2" style="fill:#000"/>
<ellipse cx="252" cy="476" rx="1.3" ry="2.2" style="fill:#000"/>
<path d="M250.4 531.6 L229.3 491.8"/>
<path d="M229.3 491.8 L234.1 496.6 L230.6 498.5 Z" style="fill:#000;stroke-width:0.6"/>
</g>
</svg>
</body>
</html>
